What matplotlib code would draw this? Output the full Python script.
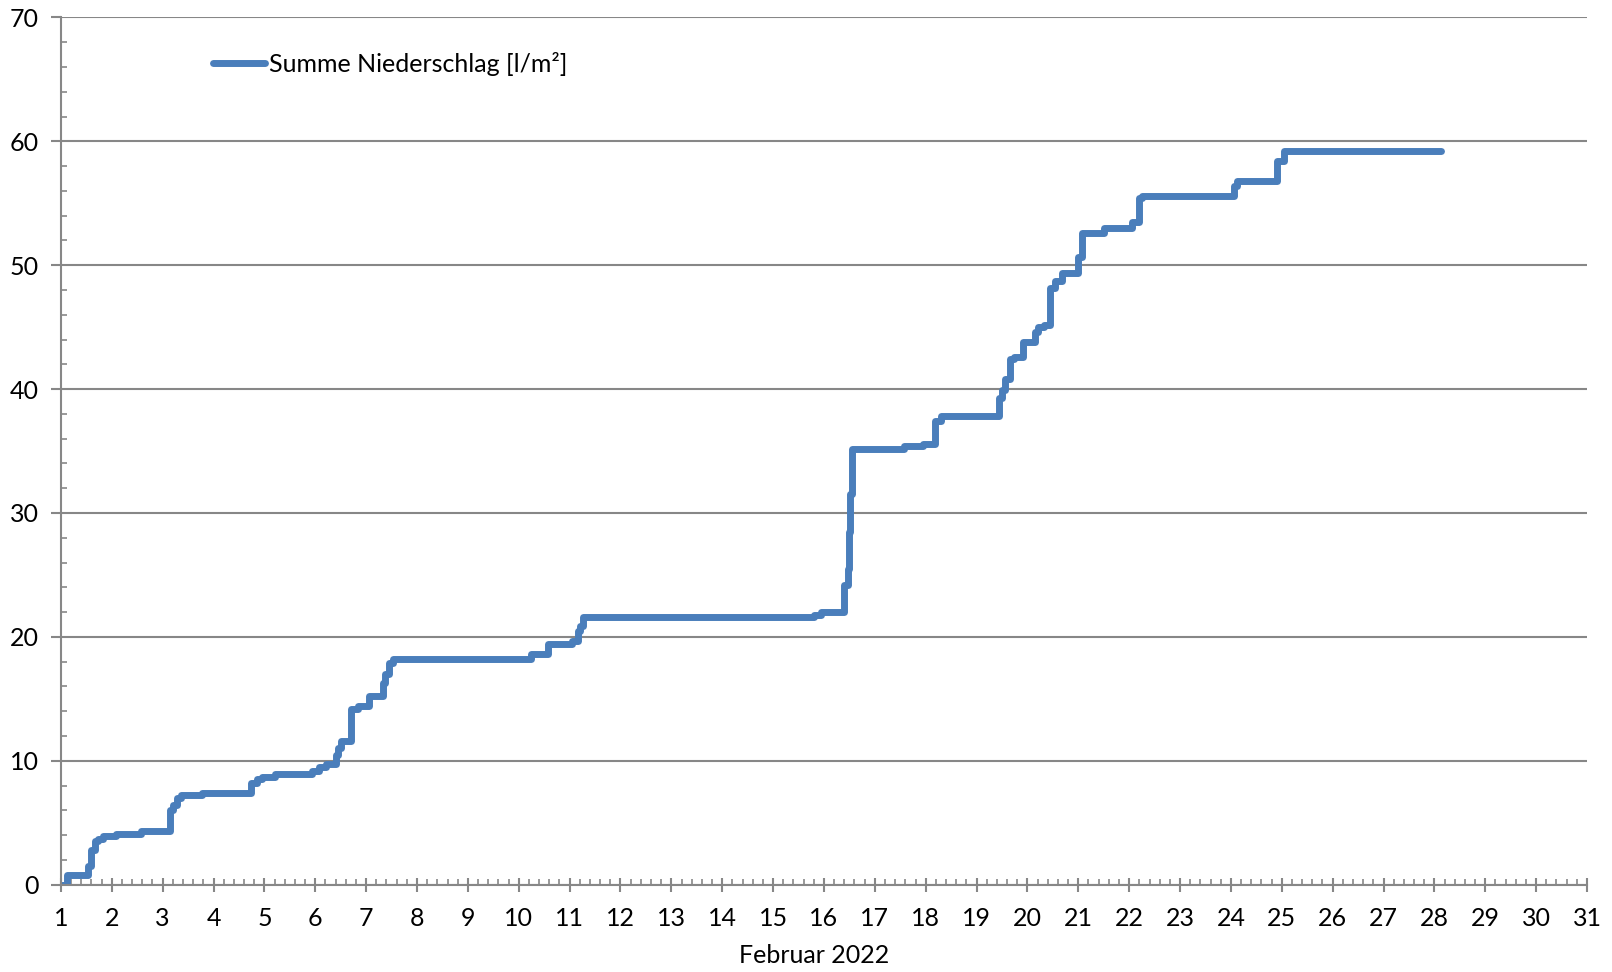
import matplotlib
matplotlib.use("Agg")
import matplotlib.pyplot as plt
from matplotlib.ticker import MultipleLocator

# change points of the cumulative rain sum (day of month, l/m²)
days = [1.00, 1.12, 1.53, 1.60, 1.67, 1.73, 1.83, 2.09, 2.58, 3.15, 3.21, 3.29,
        3.37, 3.77, 4.73, 4.85, 4.95, 5.21, 5.94, 6.08, 6.21, 6.40, 6.45, 6.51,
        6.71, 6.83, 7.06, 7.34, 7.38, 7.44, 7.52, 10.24, 10.58, 11.05, 11.17,
        11.21, 11.27, 15.81, 15.95, 16.39, 16.47, 16.50, 16.52, 16.56, 17.57,
        17.95, 18.18, 18.30, 19.45, 19.50, 19.55, 19.65, 19.74, 19.92, 20.15,
        20.20, 20.32, 20.44, 20.55, 20.67, 20.99, 21.07, 21.50, 22.05, 22.19,
        22.25, 24.07, 24.11, 24.90, 25.04, 28.12]
summe = [0.0, 0.8, 1.5, 2.8, 3.5, 3.7, 3.9, 4.1, 4.3, 6.0, 6.4, 7.0,
         7.2, 7.4, 8.2, 8.5, 8.7, 8.9, 9.2, 9.5, 9.7, 10.5, 11.0, 11.6,
         14.2, 14.4, 15.2, 16.3, 17.0, 17.9, 18.2, 18.6, 19.4, 19.7, 20.5,
         20.9, 21.6, 21.8, 22.0, 24.2, 25.5, 28.5, 31.5, 35.2, 35.4,
         35.6, 37.4, 37.8, 39.3, 39.9, 40.8, 42.4, 42.6, 43.8, 44.6,
         45.0, 45.2, 48.2, 48.7, 49.4, 50.7, 52.6, 53.0, 53.5, 55.4,
         55.6, 56.4, 56.8, 58.4, 59.2, 59.2]

x_ticks = list(range(1, 32))
y_ticks = list(range(0, 71, 10))

grey = "#878787"
blue = "#4A7EBB"

plt.rcParams["font.family"] = ["Lato", "DejaVu Sans"]

fig = plt.figure(figsize=(16.12, 9.72), dpi=100)
ax = fig.add_axes([0.0378, 0.0899, 0.9467, 0.8921])

ax.plot(days, summe, drawstyle="steps-post", color=blue, linewidth=5,
        solid_capstyle="round", solid_joinstyle="round",
        label="Summe Niederschlag [l/m²]")

ax.set_xlim(1, 31)
ax.set_ylim(0, 70)
ax.set_xticks(x_ticks)
ax.set_yticks(y_ticks)
ax.xaxis.set_minor_locator(MultipleLocator(0.2))
ax.yaxis.set_minor_locator(MultipleLocator(2))

ax.grid(axis="y", which="major", color=grey, linewidth=1.5)
ax.set_axisbelow(True)
for s in ["top", "right"]:
    ax.spines[s].set_visible(False)
for s in ["left", "bottom"]:
    ax.spines[s].set_color(grey)
    ax.spines[s].set_linewidth(1.5)

ax.tick_params(axis="x", which="major", direction="inout", length=10, width=1.5,
               color=grey, labelsize=18, pad=11)
ax.tick_params(axis="x", which="minor", direction="in", length=4, width=1.2, color=grey)
ax.tick_params(axis="y", which="major", direction="out", length=7, width=1.5,
               color=grey, labelsize=18, pad=9)
ax.tick_params(axis="y", which="minor", direction="in", length=4, width=1.2, color=grey)

ax.set_xlabel("Februar 2022", fontsize=18)
ax.xaxis.set_label_coords(0.4934, -0.069)

ax.legend(loc="center left", bbox_to_anchor=(0.0996, 0.9465), frameon=False,
          fontsize=18, borderaxespad=0, borderpad=0, handlelength=2.1,
          handletextpad=0.15)

fig.savefig("out.png", dpi=100)
